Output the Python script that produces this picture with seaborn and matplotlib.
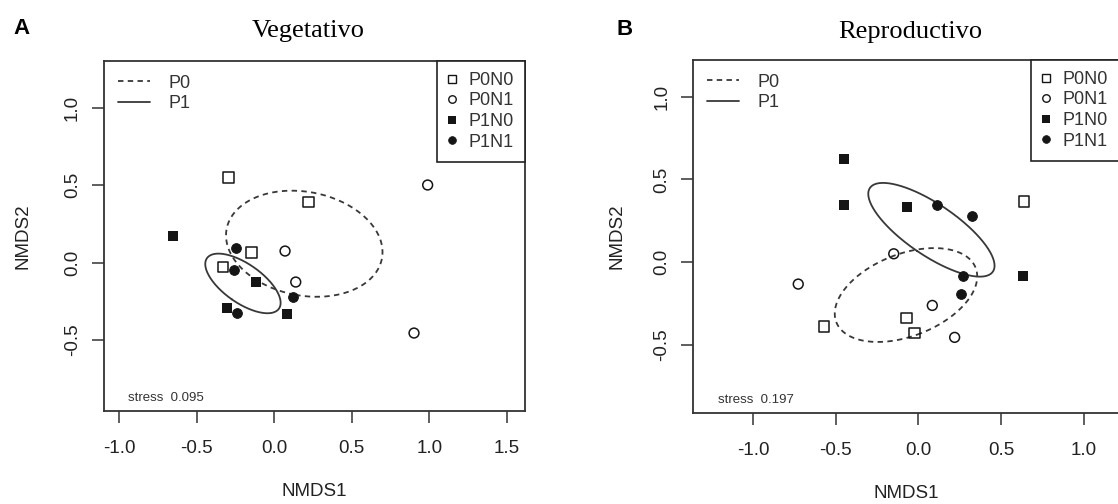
import numpy as np
import pandas as pd
import matplotlib
matplotlib.use("Agg")
import matplotlib.pyplot as plt
import seaborn as sns
from matplotlib.lines import Line2D

# --- data -------------------------------------------------------------------
treatments = ["P0N0", "P0N1", "P1N0", "P1N1"]
p_levels = ["P0", "P1"]
groups = ["P0N0"] * 4 + ["P0N1"] * 4 + ["P1N0"] * 4 + ["P1N1"] * 4

veg_nmds1 = [-0.296, 0.222, -0.145, -0.330,
             0.990, 0.070, 0.139, 0.902,
             -0.653, -0.119, -0.303, 0.085,
             -0.245, -0.261, 0.121, -0.238]
veg_nmds2 = [0.551, 0.390, 0.067, -0.028,
             0.501, 0.075, -0.125, -0.454,
             0.170, -0.127, -0.290, -0.331,
             0.097, -0.049, -0.219, -0.323]

rep_nmds1 = [0.638, -0.570, -0.071, -0.025,
             -0.726, -0.149, 0.084, 0.219,
             -0.450, -0.450, -0.067, 0.634,
             0.110, 0.326, 0.271, 0.255]
rep_nmds2 = [0.366, -0.390, -0.337, -0.428,
             -0.132, 0.051, -0.261, -0.454,
             0.624, 0.348, 0.334, -0.083,
             0.346, 0.277, -0.085, -0.192]

veg_stress = 0.095
rep_stress = 0.197

panel_titles = ["Vegetativo", "Reproductivo"]
panel_letters = ["A", "B"]
veg_xticks = [-1.0, -0.5, 0.0, 0.5, 1.0, 1.5]
rep_xticks = [-1.0, -0.5, 0.0, 0.5, 1.0]
nmds2_ticks = [-0.5, 0.0, 0.5, 1.0]

# --- style ------------------------------------------------------------------
sns.set_theme(style="white")
plt.rcParams["font.family"] = ["Liberation Sans", "DejaVu Sans"]
plt.rcParams["axes.unicode_minus"] = False

INK = "#151515"
LINE = "#383838"
DASH = (0, (3, 2.4))

marker_style = {
    "P0N0": dict(marker="s", s=58, facecolor="none", linewidth=1.1),
    "P0N1": dict(marker="o", s=50, facecolor="none", linewidth=1.1),
    "P1N0": dict(marker="s", s=52, facecolor=INK, linewidth=0.0),
    "P1N1": dict(marker="o", s=50, facecolor=INK, linewidth=0.6),
}
legend_marker = {
    "P0N0": dict(marker="s", mfc="none", ms=5.4, mew=1.0),
    "P0N1": dict(marker="o", mfc="none", ms=5.4, mew=1.0),
    "P1N0": dict(marker="s", mfc=INK, ms=5.2, mew=0.0),
    "P1N1": dict(marker="o", mfc=INK, ms=5.6, mew=0.5),
}


def sd_ellipse(x, y, n=240):
    """One-standard-deviation ellipse around the group centroid."""
    pts = np.column_stack([x, y])
    centre = pts.mean(axis=0)
    cov = np.cov(pts.T)
    vals, vecs = np.linalg.eigh(cov)
    t = np.linspace(0, 2 * np.pi, n)
    circle = np.column_stack([np.cos(t), np.sin(t)])
    return circle * np.sqrt(vals) @ vecs.T + centre


W, H = 1118, 504
fig = plt.figure(figsize=(W / 100, H / 100), dpi=100)


def px_axes(left, top, right, bottom):
    return fig.add_axes([left / W, 1 - bottom / H, (right - left) / W, (bottom - top) / H])


ax_veg = px_axes(104, 61, 525, 411)
ax_rep = px_axes(693.3, 60, 1119, 413)

panels = [
    (ax_veg, veg_nmds1, veg_nmds2, veg_stress, veg_xticks, (-1.098, 1.618), (-0.957, 1.301), -0.192),
    (ax_rep, rep_nmds1, rep_nmds2, rep_stress, rep_xticks, (-1.360, 1.212), (-0.911, 1.222), -0.179),
]

for ax, xs, ys, stress, xticks, xlim, ylim, ylab_x in panels:
    df = pd.DataFrame({"NMDS1": xs, "NMDS2": ys, "grupo": groups})
    df["P"] = df["grupo"].str[:2]

    # dispersion ellipses per phosphorus level
    for level, ls in zip(p_levels, [DASH, "-"]):
        sub = df[df["P"] == level]
        ell = sd_ellipse(sub["NMDS1"].to_numpy(), sub["NMDS2"].to_numpy())
        sns.lineplot(x=ell[:, 0], y=ell[:, 1], sort=False, estimator=None,
                     color=LINE, linewidth=1.3, linestyle=ls, ax=ax)

    # sample scores
    for trt in treatments:
        sub = df[df["grupo"] == trt]
        sns.scatterplot(data=sub, x="NMDS1", y="NMDS2", color=INK,
                        edgecolor=INK, ax=ax, zorder=3, **marker_style[trt])

    ax.set_xlim(*xlim)
    ax.set_ylim(*ylim)
    ax.set_xticks(xticks)
    ax.set_xticklabels([f"{v:.1f}" for v in xticks])
    ax.set_yticks(nmds2_ticks)
    ax.set_yticklabels([f"{v:.1f}" for v in nmds2_ticks], rotation=90, va="center")
    ax.tick_params(axis="both", direction="out", length=8.6, width=1.1,
                   color="#333333", labelsize=13.5, labelcolor="#222222")
    ax.tick_params(axis="x", pad=12.5)
    ax.tick_params(axis="y", pad=8.0)
    ax.tick_params(bottom=True, left=True)
    for sp in ax.spines.values():
        sp.set_visible(True)
        sp.set_color("#333333")
        sp.set_linewidth(1.3)

    ax.set_xlabel("NMDS1", fontsize=13.5, color="#222222")
    ax.set_ylabel("NMDS2", fontsize=13.5, color="#222222")
    ax.xaxis.label.set_va("center")
    ax.yaxis.label.set_va("center")
    height_px = ax.get_position().height * H
    ax.xaxis.set_label_coords(0.5, -81 / height_px)
    ax.yaxis.set_label_coords(ylab_x, 0.5)

    ax.text(0.058, 0.037, f"stress  {stress:.3f}", transform=ax.transAxes,
            fontsize=9.5, color="#333333", va="center", ha="left")

    line_handles = [Line2D([], [], color=LINE, lw=1.3, ls=DASH),
                    Line2D([], [], color=LINE, lw=1.3, ls="-")]
    leg_lines = ax.legend(line_handles, p_levels, loc="upper left", frameon=False,
                          fontsize=13, handlelength=1.8, handletextpad=1.0,
                          borderpad=0.75, borderaxespad=0, labelspacing=0.2,
                          labelcolor="#333333")
    ax.add_artist(leg_lines)

    mk_handles = [Line2D([], [], ls="none", mec=INK, color=INK, **legend_marker[t])
                  for t in treatments]
    leg_mk = ax.legend(mk_handles, treatments, loc="upper right", frameon=True,
                       fancybox=False, framealpha=1, edgecolor="#222222",
                       fontsize=13, handlelength=0.4, handletextpad=0.75,
                       borderpad=0.6, borderaxespad=0, labelspacing=0.2,
                       labelcolor="#333333")
    leg_mk.get_frame().set_linewidth(1.2)

# panel titles and letters
fig.text(308 / W, 1 - 37.5 / H, panel_titles[0], family=["Liberation Serif"],
         fontsize=19, ha="center", va="baseline", color="black")
fig.text(910 / W, 1 - 38 / H, panel_titles[1], family=["Liberation Serif"],
         fontsize=19, ha="center", va="baseline", color="black")
fig.text(13 / W, 1 - 34 / H, panel_letters[0], fontsize=16, weight="bold",
         ha="left", va="baseline", color="black")
fig.text(617 / W, 1 - 35 / H, panel_letters[1], fontsize=16, weight="bold",
         ha="left", va="baseline", color="black")

fig.savefig("out.png", dpi=100, facecolor="white")
